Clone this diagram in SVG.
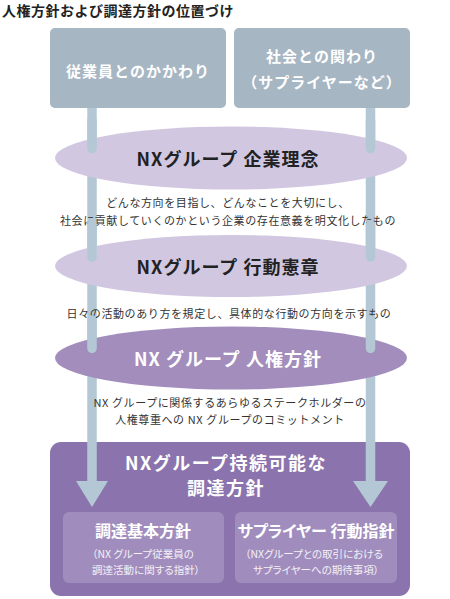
<svg xmlns="http://www.w3.org/2000/svg" width="450" height="599" viewBox="0 0 450 599">
<style>
text{font-family:"Noto Sans CJK JP","Noto Sans",sans-serif;text-anchor:middle;dominant-baseline:central}
.title{font-size:14px;font-weight:700;fill:#222;text-anchor:start;letter-spacing:0.5px}
.src{fill:#a6b6c3}
.srct{font-size:15px;font-weight:700;fill:#fff;letter-spacing:1px}
.bar{stroke:#b3c8d4;stroke-width:9.5;fill:none}
.cap{stroke:#b3c8d4;stroke-width:9.5;stroke-linecap:round;fill:none}
.el1{fill:#d1c7e0}
.el2{fill:#a28dbd}
.elt{font-size:18px;font-weight:700;fill:#222;letter-spacing:1px}
.elw{font-size:18px;font-weight:700;fill:#fff;letter-spacing:1px}
.bigt{font-size:18px;font-weight:700;fill:#fff;letter-spacing:1.5px}
.desc{font-size:11px;fill:#333;letter-spacing:0.6px}
.big{fill:#8b74ad}
.sub{fill:#a18dbd}
.subt{font-size:16px;font-weight:700;fill:#fff;font-feature-settings:"palt"}
.subs{font-size:10.5px;fill:#f3f0f7;font-feature-settings:"palt"}
.arr{fill:#b3c8d4}
</style>
<text class="title" x="2" y="10">人権方針および調達方針の位置づけ</text>
<g id="box-employees">
<rect class="src" x="50" y="28" width="176" height="80" rx="5"/>
<text class="srct" x="138" y="70">従業員とのかかわり</text>
</g>
<g id="box-society">
<rect class="src" x="234" y="28" width="176" height="80" rx="5"/>
<text class="srct" x="322" y="55">社会との関わり</text>
<text class="srct" x="322" y="81">（サプライヤーなど）</text>
</g>
<g id="big-box">
<rect class="big" x="50" y="442" width="360" height="154" rx="11"/>
<text class="bigt" x="226" y="462">NXグループ持続可能な</text>
<text class="bigt" x="226" y="487">調達方針</text>
</g>
<g id="connectors">
<line class="bar" x1="92" y1="108" x2="92" y2="482"/>
<line class="bar" x1="370.5" y1="108" x2="370.5" y2="482"/>
</g>
<g id="ellipse-philosophy">
<ellipse class="el1" cx="231" cy="158" rx="176" ry="31.5"/>
<line class="cap" x1="92" y1="120" x2="92" y2="148.5"/>
<line class="cap" x1="370.5" y1="120" x2="370.5" y2="148.5"/>
<text class="elt" x="228" y="158">NXグループ 企業理念</text>
</g>
<g id="desc-philosophy">
<text class="desc" x="228" y="202">どんな方向を目指し、どんなことを大切にし、</text>
<text class="desc" x="228" y="220">社会に貢献していくのかという企業の存在意義を明文化したもの</text>
</g>
<g id="ellipse-charter">
<ellipse class="el1" cx="231" cy="266" rx="176" ry="31"/>
<line class="cap" x1="92" y1="225" x2="92" y2="257"/>
<line class="cap" x1="370.5" y1="225" x2="370.5" y2="257"/>
<text class="elt" x="228" y="266">NXグループ 行動憲章</text>
</g>
<g id="desc-charter">
<text class="desc" x="229" y="313">日々の活動のあり方を規定し、具体的な行動の方向を示すもの</text>
</g>
<g id="ellipse-humanrights">
<ellipse class="el2" cx="231" cy="358" rx="176" ry="31.5"/>
<line class="cap" x1="92" y1="320" x2="92" y2="348.5"/>
<line class="cap" x1="370.5" y1="320" x2="370.5" y2="348.5"/>
<text class="elw" x="228" y="358">NX グループ 人権方針</text>
</g>
<g id="desc-humanrights">
<text class="desc" x="230" y="402">NX グループに関係するあらゆるステークホルダーの</text>
<text class="desc" x="230" y="419">人権尊重への NX グループのコミットメント</text>
</g>
<g id="arrowheads">
<polygon class="arr" points="76,481 108,481 92,507"/>
<polygon class="arr" points="353,481 388,481 370.5,507"/>
</g>
<g id="sub-basic">
<rect class="sub" x="63" y="512" width="161" height="71" rx="6"/>
<text class="subt" x="143" y="530">調達基本方針</text>
<text class="subs" x="143" y="553">（NX グループ従業員の</text>
<text class="subs" x="146" y="569">調達活動に関する指針）</text>
</g>
<g id="sub-supplier">
<rect class="sub" x="235" y="512" width="162" height="71" rx="6"/>
<text class="subt" x="316" y="530">サプライヤー 行動指針</text>
<text class="subs" x="314" y="553">（NXグループとの取引における</text>
<text class="subs" x="316" y="569">サプライヤーへの期待事項）</text>
</g>
</svg>
